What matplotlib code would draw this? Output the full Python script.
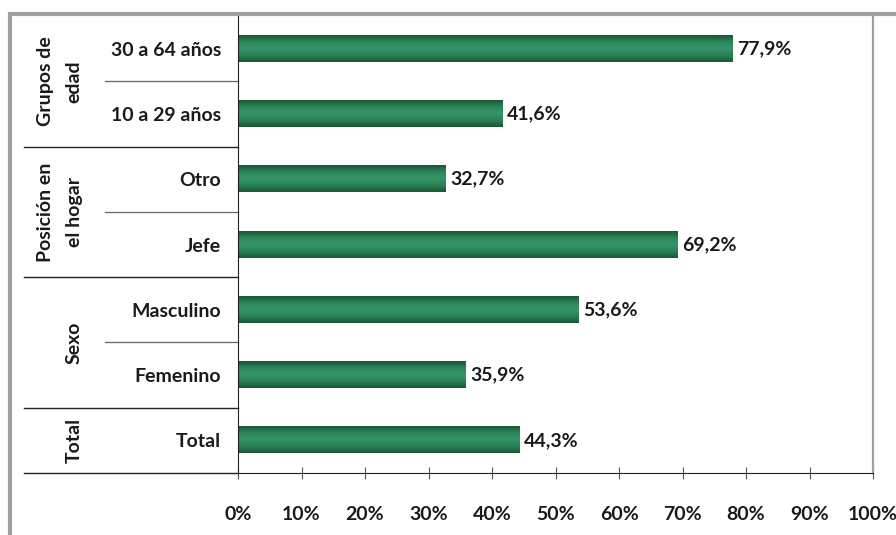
import numpy as np
import matplotlib
matplotlib.use('Agg')
import matplotlib.pyplot as plt
from matplotlib.colors import LinearSegmentedColormap
from matplotlib.patches import Rectangle
from matplotlib.transforms import blended_transform_factory

plt.rcParams['font.family'] = ['Lato', 'DejaVu Sans']

# data, top to bottom
categorias = ['30 a 64 años', '10 a 29 años', 'Otro', 'Jefe', 'Masculino', 'Femenino', 'Total']
valores = [77.9, 41.6, 32.7, 69.2, 53.6, 35.9, 44.3]
grupos = ['Grupos de\nedad', 'Posición en\nel hogar', 'Sexo', 'Total']
grupo_filas = [(0, 1), (2, 3), (4, 5), (6, 6)]
xticks = [0, 10, 20, 30, 40, 50, 60, 70, 80, 90, 100]

txt = '#1a1a1a'
fs = 14
fig = plt.figure(figsize=(8.96, 5.35), dpi=100)
ax = fig.add_axes([238/896, 1-473/535, 635/896, 457/535])

cmap = LinearSegmentedColormap.from_list('verde', ['#1a5636', '#2c8757', '#33966a', '#2a8254', '#1a5636'])
grad = np.linspace(0, 1, 64).reshape(-1, 1)
h = 0.4
for i, v in enumerate(valores):
    ax.imshow(grad, cmap=cmap, aspect='auto', extent=(0, v, i + h/2, i - h/2),
              interpolation='bicubic', zorder=2)
    ax.text(v + 0.7, i, f'{v:.1f}%'.replace('.', ','), va='center', ha='left',
            fontsize=fs, fontweight='bold', color=txt)

ax.set_xlim(0, 100)
ax.set_ylim(6.5, -0.5)
ax.set_xticks(xticks)
ax.set_xticklabels([f'{t}%' for t in xticks], fontsize=fs, fontweight='bold', color=txt)
ax.set_yticks(range(len(categorias)))
ax.set_yticklabels(categorias, fontsize=fs, fontweight='bold', color=txt)
ax.tick_params(axis='y', length=0, pad=12)
ax.tick_params(axis='x', direction='inout', length=9, color='#555555', pad=19)

ax.spines['top'].set_visible(False)
ax.spines['right'].set_color('#a0a0a0')
ax.spines['right'].set_linewidth(1.6)
ax.spines['left'].set_color('#222222')
ax.spines['bottom'].set_color('#222222')

tr = blended_transform_factory(ax.transAxes, ax.transData)
# separators between groups and between rows inside a group
for g0, g1 in grupo_filas:
    ax.plot([-214/635, 0], [g1 + 0.5, g1 + 0.5], transform=tr, color='#222222', lw=1, clip_on=False)
    for r in range(g0, g1):
        ax.plot([-133/635, 0], [r + 0.5, r + 0.5], transform=tr, color='#666666', lw=0.9, clip_on=False)

for nombre, (g0, g1) in zip(grupos, grupo_filas):
    xg = -178/635 if '\n' in nombre else -164/635
    ax.text(xg, (g0 + g1) / 2, nombre, transform=tr, rotation=90, ha='center', va='center',
            multialignment='center', fontsize=fs, fontweight='bold', color=txt, linespacing=1.8)

# frame of the screenshot
fig.patches.append(Rectangle((10/896, -0.1), 1.2, 1.1 - 14/535,
                             transform=fig.transFigure, fill=False, edgecolor='#a0a0a0',
                             lw=3, zorder=10))

fig.savefig('out.png', dpi=100)
